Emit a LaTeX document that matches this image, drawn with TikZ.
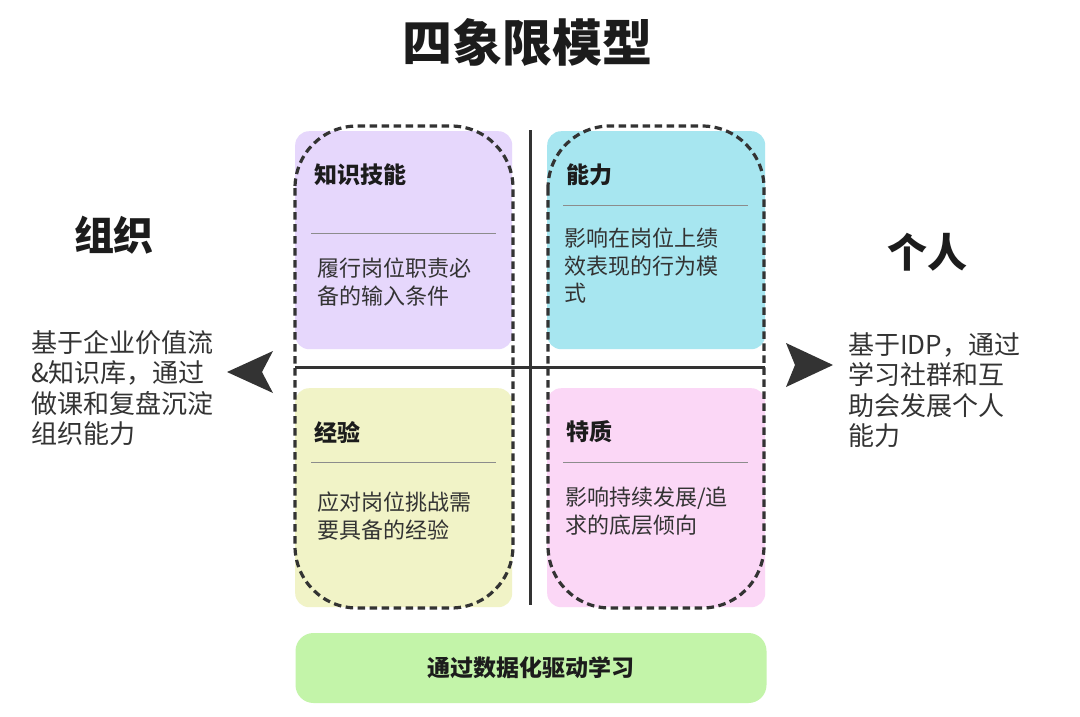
\documentclass[tikz,border=0pt]{standalone}
\usepackage{fontspec}
\setmainfont{Noto Sans CJK SC}
\usetikzlibrary{positioning}

\definecolor{zsjncol}{HTML}{E6D7FC}
\definecolor{nenglicol}{HTML}{A7E6F0}
\definecolor{jingyancol}{HTML}{F1F3C7}
\definecolor{tezhicol}{HTML}{FBD7F6}
\definecolor{xuexicol}{HTML}{C3F4A9}
\definecolor{inkcol}{HTML}{1C1C1C}
\definecolor{bodycol}{HTML}{333333}

\tikzset{
  quad/.style={rectangle, rounded corners=14, inner sep=0, anchor=north west},
  qtitle/.style={anchor=west, inner sep=0, text=inkcol, font=\fontsize{23}{27}\selectfont\bfseries},
  qbody/.style={anchor=west, inner sep=0, align=left, text=bodycol, font=\fontsize{22}{27.5}\selectfont},
  sepline/.style={draw=black!45, line width=0.8},
  axis/.style={draw=bodycol, line width=3},
  dashbox/.style={draw=inkcol!90, line width=3.2, dash pattern=on 7.5 off 4.5, rounded corners=62},
  side/.style={inner sep=0, text=inkcol, font=\fontsize{40}{44}\selectfont\bfseries},
  sidetext/.style={anchor=west, inner sep=0, align=left, text=bodycol, font=\fontsize{26}{30.5}\selectfont},
  chevron/.style={fill=bodycol}
}

\begin{document}
\begin{tikzpicture}[x=1pt, y=-1pt]
  \useasboundingbox[fill=white] (0,0) rectangle (1080,716);

  \node[inner sep=0, text=inkcol, font=\fontsize{50}{54}\selectfont\bfseries] (title) at (527,42) {四象限模型};

  % four quadrants
  \node[quad, fill=zsjncol, minimum width=217, minimum height=218] (zsjn) at (295,131) {};
  \node[quad, fill=nenglicol, minimum width=218, minimum height=218] (nengli) at (547,131) {};
  \node[quad, fill=jingyancol, minimum width=217, minimum height=219] (jingyan) at (295,388) {};
  \node[quad, fill=tezhicol, minimum width=218, minimum height=219] (tezhi) at (547,388) {};

  \node[qtitle] (zsjnT) at (314,175) {知识技能};
  \node[qtitle] (nengliT) at (566,175) {能力};
  \node[qtitle] (jingyanT) at (314,432) {经验};
  \node[qtitle] (tezhiT) at (566,432) {特质};

  \draw[sepline] (311,233) -- (496,233);
  \draw[sepline] (563,205) -- (748,205);
  \draw[sepline] (311,462) -- (496,462);
  \draw[sepline] (563,462) -- (748,462);

  \node[qbody] (zsjnB) at (317,282) {履行岗位职责必\\备的输入条件};
  \node[qbody] (nengliB) at (564,266) {影响在岗位上绩\\效表现的行为模\\式};
  \node[qbody] (jingyanB) at (317,516) {应对岗位挑战需\\要具备的经验};
  \node[qbody] (tezhiB) at (565,511) {影响持续发展/追\\求的底层倾向};

  % axes
  \coordinate (top) at (530,130);
  \coordinate (bot) at (530,605);
  \coordinate (lft) at (295,367);
  \coordinate (rgt) at (765,367);
  \draw[axis] (top) -- (bot);
  \draw[axis] (lft) -- (rgt);

  % dashed groups
  \draw[dashbox] (295,126) rectangle (513,608);
  \draw[dashbox] (548,126) rectangle (764,608);

  % sides
  \node[side] (zuzhi) at (114,235) {组织};
  \node[side] (geren) at (927,252) {个人};
  \node[sidetext] (zuzhiT) at (31,388) {基于企业价值流\\\&知识库，通过\\做课和复盘沉淀\\组织能力};
  \node[sidetext] (gerenT) at (848,390) {基于IDP，通过\\学习社群和互\\助会发展个人\\能力};

  \fill[chevron] (227,372) -- (273,351) -- (262,372) -- (273,393) -- cycle;
  \fill[chevron] (833,365) -- (786,343) -- (795,365) -- (786,387) -- cycle;

  % bottom bar
  \node[rectangle, rounded corners=18, fill=xuexicol, minimum width=471, minimum height=70, inner sep=0,
        text=inkcol, font=\fontsize{23}{27}\selectfont\bfseries] (xuexi) at (531,668) {通过数据化驱动学习};
\end{tikzpicture}
\end{document}
